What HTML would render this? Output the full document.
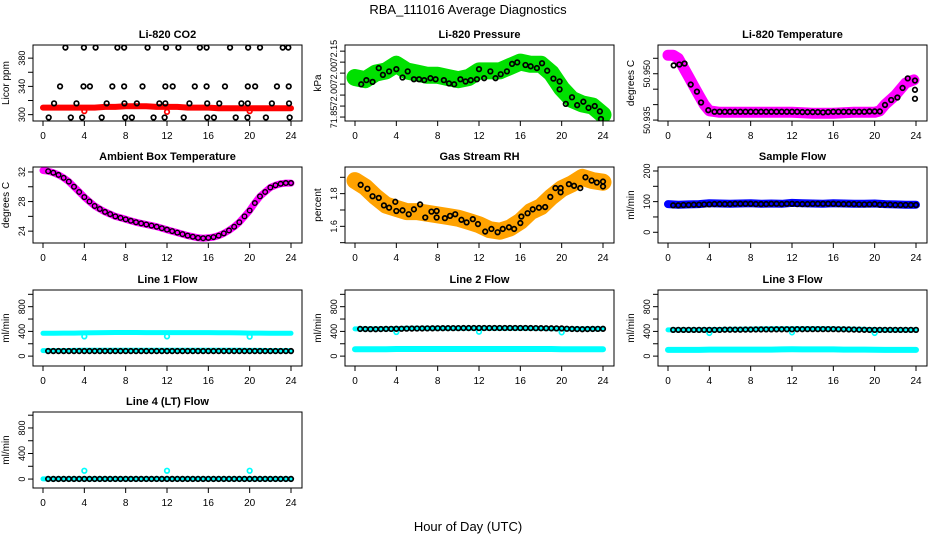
<!DOCTYPE html>
<html><head><meta charset="utf-8">
<style>
html,body{margin:0;padding:0;background:#fff;}
svg{display:block;font-family:"Liberation Sans",sans-serif;}
</style></head>
<body>
<svg id="chart" width="936" height="540" viewBox="0 0 936 540" xmlns="http://www.w3.org/2000/svg">
<rect x="0" y="0" width="936" height="540" fill="#fff"/>
<text x="468" y="14" text-anchor="middle" font-size="13">RBA_111016  Average Diagnostics</text>
<text x="468" y="531" text-anchor="middle" font-size="13">Hour of Day (UTC)</text>
</svg>
<script>
// ---- data ----
const xTicks = [0,4,8,12,16,20,24];
const hourly = [0,1,2,3,4,5,6,7,8,9,10,11,12,13,14,15,16,17,18,19,20,21,22,23,24];
const halfHours = [0.5,1,1.5,2,2.5,3,3.5,4,4.5,5,5.5,6,6.5,7,7.5,8,8.5,9,9.5,10,10.5,11,11.5,12,12.5,13,13.5,14,14.5,15,15.5,16,16.5,17,17.5,18,18.5,19,19.5,20,20.5,21,21.5,22,22.5,23,23.5,24];

// CO2
const co2Raw = [310,310,310,310,310,310,311,311,312,312,312,311,311,311,310,310,310,309,309,309,309,309,309,309,309];
const co2AvgHours = [2.17,3.96,5.09,7.2,7.85,10.12,11.9,13.1,15.18,15.83,18.1,19.85,21.0,23.2,23.74,
  1.65,3.92,4.54,6.71,7.85,9.63,11.84,12.55,14.69,15.83,17.61,19.82,20.53,22.64,23.78,
  1.07,3.24,6.16,7.88,9.08,11.26,11.84,14.17,15.89,17.06,19.2,19.82,22.15,23.81,
  0.55,2.69,3.79,5.68,7.95,8.6,10.7,11.77,13.62,15.89,16.54,18.65,19.79,21.57,23.87];
const co2AvgValues = [395,395,395,395,395,395,395,395,395,395,395,395,395,395,395,
  340,340,340,340,340,340,340,340,340,340,340,340,340,340,340,
  316,316,316,316,316,316,316,316,316,316,316,316,316,316,
  296,296,296,296,296,296,296,296,296,296,296,296,296,296,296];
const co2OutHours = [4,12,20];
const co2OutValues = [305,304,305];

// Pressure
const presRaw = [72.03,72.02,72.05,72.06,72.09,72.06,72.05,72.04,72.04,72.03,72.02,72.03,72.06,72.06,72.06,72.08,72.10,72.09,72.09,72.05,71.98,71.93,71.91,71.90,71.86];
const presAvgHours = [0.6,1.1,1.7,2.3,2.7,3.3,4.0,4.6,5.1,5.7,6.2,6.7,7.3,7.8,8.6,9.1,9.6,10.2,10.7,11.2,11.8,12.0,12.5,13.1,13.6,14.1,14.7,15.2,15.7,16.5,17.0,17.6,18.1,18.6,19.2,19.8,19.8,20.4,21.0,21.5,22.1,22.6,23.2,23.7,23.8];
const presAvgValues = [71.999,72.018,72.01,72.073,72.042,72.058,72.068,72.03,72.058,72.022,72.022,72.018,72.027,72.022,72.018,72.003,71.999,72.022,72.012,72.018,72.022,72.068,72.027,72.058,72.027,72.045,72.058,72.092,72.099,72.087,72.081,72.073,72.095,72.061,72.025,72.012,71.976,71.91,71.94,71.904,71.92,71.892,71.9,71.876,71.841];

// Li-820 temperature
const ltHours = [0,0.5,1,1.5,2,2.5,3,3.5,4,5,6,8,10,12,14,16,18,20,20.5,21,22,23,23.8];
const ltRaw = [50.956,50.956,50.955,50.952,50.949,50.946,50.943,50.940,50.938,50.9375,50.9375,50.9375,50.9375,50.9375,50.9372,50.9372,50.9375,50.9375,50.938,50.940,50.943,50.947,50.948];
const ltAvgHours = [0.55,1.1,1.6,2.2,2.8,3.2,3.9,4.5,5,5.5,6,6.5,7,7.5,8,8.5,9,9.5,10,10.5,11,11.5,12,12.5,13,13.5,14,14.5,15,15.5,16,16.5,17,17.5,18,18.5,19,19.5,20,20.5,21.0,21.6,22.2,22.7,23.2,23.9,23.9,23.9];
const ltAvgValues = [50.9527,50.953,50.9533,50.9465,50.9442,50.9407,50.9382,50.9377,50.9377,50.9377,50.9377,50.9377,50.9377,50.9377,50.9377,50.9377,50.9377,50.9377,50.9377,50.9377,50.9377,50.9377,50.9377,50.9377,50.9376,50.9376,50.9376,50.9376,50.9375,50.9376,50.9377,50.9377,50.9377,50.9377,50.9377,50.9377,50.9377,50.9378,50.9378,50.9378,50.9399,50.9415,50.9423,50.9454,50.9485,50.9478,50.9448,50.9419];

// Ambient box temperature
const ambHours = [0].concat(halfHours);
const ambValues = [32.2,32.1,31.9,31.6,31.2,30.7,30.0,29.3,28.6,28.0,27.4,27.0,26.6,26.3,26.0,25.8,25.6,25.4,25.2,25.05,24.9,24.75,24.6,24.4,24.2,24.0,23.8,23.6,23.4,23.25,23.1,23.05,23.1,23.2,23.4,23.7,24.1,24.6,25.2,26.0,26.8,27.8,28.7,29.3,29.9,30.2,30.4,30.5,30.5];

// RH
const rhRaw = [1.88,1.84,1.78,1.73,1.71,1.69,1.69,1.68,1.67,1.66,1.65,1.63,1.61,1.58,1.57,1.59,1.63,1.69,1.72,1.78,1.83,1.86,1.90,1.88,1.87];
const rhAvgHours = [0.55,1.2,1.7,2.3,2.8,3.3,3.9,4.0,4.6,5.2,5.7,6.3,6.8,7.4,7.9,7.9,8.7,9.2,9.7,10.3,10.8,11.4,11.9,12.6,13.2,13.8,14.3,14.9,15.4,16.0,16.1,16.7,17.2,17.8,18.4,18.9,19.4,19.9,19.9,20.7,21.2,21.8,22.3,22.9,23.4,24.0,24.0];
const rhAvgValues = [1.854,1.83,1.784,1.774,1.728,1.714,1.75,1.694,1.698,1.674,1.704,1.734,1.654,1.69,1.694,1.654,1.65,1.664,1.674,1.64,1.624,1.644,1.614,1.568,1.584,1.564,1.584,1.594,1.584,1.62,1.66,1.68,1.704,1.714,1.718,1.78,1.834,1.808,1.834,1.858,1.848,1.834,1.9,1.88,1.868,1.874,1.844];

// Sample flow
const sfRaw = [92,90,91,92,95,94,93,94,95,93,94,93,96,95,94,93,95,94,93,93,94,92,91,90,90];
const sfAvg = [88,88,89,89,90,90,91,91,92,92,92,92,93,93,93,93,92,92,92,93,93,92,93,93,92,92,92,93,93,93,93,93,92,92,92,92,91,91,91,92,90,90,90,89,89,89,89,89];

// Line flows
const l1Upper = [370,370,372,372,375,378,380,382,382,382,380,380,380,380,380,380,380,378,378,375,372,372,370,370,370];
const l1Lower = [90,90,90,92,95,95,95,95,95,95,95,95,95,95,95,95,95,95,95,95,92,92,90,90,90];
const l1Avg = Array(48).fill(82);
const l1OutHours = [4,12,20];
const l1OutValues = [320,320,315];
const l2Upper = [440,440,440,440,445,450,450,450,450,450,450,450,450,450,450,450,450,450,448,445,440,440,440,440,440];
const l2Lower = [110,110,110,110,115,115,115,115,115,115,115,115,115,115,115,115,115,115,115,115,110,110,110,110,110];
const l2Avg = [440,438,437,436,438,440,441,442,443,445,446,447,448,449,450,451,452,452,453,453,454,454,455,455,455,455,455,455,455,455,455,455,455,454,453,452,451,450,449,448,443,440,438,436,438,440,441,442];
const l2OutHours = [4,12,20];
const l2OutValues = [390,395,385];
const l3Upper = [425,425,425,425,428,430,432,435,438,440,442,442,442,442,442,442,440,438,435,432,428,425,425,425,425];
const l3Lower = [100,100,100,100,105,105,105,105,105,105,105,108,110,108,108,108,108,106,106,105,102,100,100,100,100];
const l3Avg = [425,425,425,425,425,425,425,425,425,425,428,428,428,428,430,430,432,432,433,433,434,434,435,435,436,436,437,437,437,437,437,437,435,434,432,430,428,426,425,425,425,425,425,425,425,425,425,425];
const l3OutHours = [4,12,20];
const l3OutValues = [375,385,375];
const l4Cyan = Array(25).fill(3);
const l4Avg = Array(48).fill(2);
const l4OutHours = [4,12,20];
const l4OutValues = [130,130,130];

// ---- layout ----
const NS = "http://www.w3.org/2000/svg";
const svg = document.getElementById('chart');
const colLeft = [33, 345, 658];
const rowTop = [45, 167, 290, 412];
const PW = 269, PH = 76;

function mk(tag, attrs, parent){
  const e = document.createElementNS(NS, tag);
  for (const k in attrs) e.setAttribute(k, attrs[k]);
  (parent||svg).appendChild(e);
  return e;
}

function panel(cfg){
  const L = colLeft[cfg.col], T = rowTop[cfg.row];
  const g = mk('g', {});
  
  
  const xs = h => L + 10 + h * (248/24);
  const ys = v => T + PH - (v - cfg.ymin) / (cfg.ymax - cfg.ymin) * PH;
  const clip = 'clip-' + cfg.name;
  const cp = mk('clipPath', {id: clip}, g);
  mk('rect', {x: L, y: T, width: PW, height: PH}, cp);
  const dg = mk('g', {'clip-path': 'url(#' + clip + ')'}, g);
  
  
  (cfg.lines||[]).forEach(s => {
    const pts = s.x.map((h,i) => xs(h).toFixed(1) + ',' + ys(s.y[i]).toFixed(1)).join(' ');
    const pl = mk('polyline', {points: pts, fill: 'none', stroke: s.color, 'stroke-width': s.w, 'stroke-linejoin': 'round', 'stroke-linecap': 'round'}, dg);
    
    
  });
  (cfg.points||[]).forEach(s => {
    s.x.forEach((h,i) => {
      const c = mk('circle', {cx: xs(h), cy: ys(s.y[i]), r: s.r||2.3, fill: 'none', stroke: s.color, 'stroke-width': s.sw||1.7}, dg);
      
      
    });
  });
  const box = mk('rect', {x: L, y: T, width: PW, height: PH, fill: 'none', stroke: '#000', 'stroke-width': 1}, g);
  
  
  const t = mk('text', {x: L + PW/2, y: T - 7, 'text-anchor': 'middle', 'font-size': 11, 'font-weight': 'bold'}, g);
  t.textContent = cfg.title;
  
  
  xTicks.forEach(h => {
    mk('line', {x1: xs(h), x2: xs(h), y1: T+PH, y2: T+PH+5, stroke: '#000'}, g);
    const tx = mk('text', {x: xs(h), y: T+PH+18, 'text-anchor': 'middle', 'font-size': 10}, g);
    tx.textContent = h;
    
    
  });
  mk('line', {x1: xs(0), x2: xs(24), y1: T+PH, y2: T+PH, stroke: '#000'}, g);
  cfg.yticks.forEach(v => {
    const y = ys(v);
    mk('line', {x1: L-5, x2: L, y1: y, y2: y, stroke: '#000'}, g);
  });
  cfg.ylabelVals.forEach((v,i) => {
    const y = ys(v);
    const tx = mk('text', {x: L-8, y: y, 'text-anchor': 'middle', 'font-size': 9, transform: 'rotate(-90 ' + (L-8) + ' ' + y + ')'}, g);
    tx.textContent = cfg.ylabelText[i];
    
    
  });
  const yt = mk('text', {x: L-24, y: T+PH/2, 'text-anchor': 'middle', 'font-size': 10, transform: 'rotate(-90 ' + (L-24) + ' ' + (T+PH/2) + ')'}, g);
  yt.textContent = cfg.ytitle;
  
  
}

const flowTicks = [0,200,400,600,800,1000];
const flowLab = [0,400,800];
const flowLabT = ['0','400','800'];

panel({name:'co2-panel', title:'Li-820 CO2', col:0, row:0, ymin:291, ymax:398.6, yticks:[300,320,340,360,380], ylabelVals:[300,340,380], ylabelText:['300','340','380'], ytitle:'Licor ppm',
  lines:[{name:'co2-raw', x:hourly, y:co2Raw, color:'#ff0000', w:6}],
  points:[{name:'co2-outlier', x:co2OutHours, y:co2OutValues, color:'#ff0000'},{name:'co2-average', x:co2AvgHours, y:co2AvgValues, color:'#000'}]});
panel({name:'pressure-panel', title:'Li-820 Pressure', col:1, row:0, ymin:71.832, ymax:72.178, yticks:[71.85,71.90,71.95,72.00,72.05,72.10,72.15], ylabelVals:[71.85,71.95,72.05,72.15], ylabelText:['71.85','72.00','72.00','72.15'], ytitle:'kPa',
  lines:[{name:'pressure-raw', x:hourly, y:presRaw, color:'#00e000', w:17}],
  points:[{name:'pressure-average', x:presAvgHours, y:presAvgValues, color:'#000'}]});
panel({name:'licor-temp-panel', title:'Li-820 Temperature', col:2, row:0, ymin:50.9347, ymax:50.9593, yticks:[50.935,50.940,50.945,50.950,50.955], ylabelVals:[50.935,50.950], ylabelText:['50.935','50.950'], ytitle:'degrees C',
  lines:[{name:'licor-temp-raw', x:ltHours, y:ltRaw, color:'#ff00ff', w:11}],
  points:[{name:'licor-temp-average', x:ltAvgHours, y:ltAvgValues, color:'#000'}]});
panel({name:'ambient-temp-panel', title:'Ambient Box Temperature', col:0, row:1, ymin:22.4, ymax:32.67, yticks:[24,26,28,30,32], ylabelVals:[24,28,32], ylabelText:['24','28','32'], ytitle:'degrees C',
  lines:[{name:'ambient-temp-raw', x:ambHours, y:ambValues, color:'#ff00ff', w:7}],
  points:[{name:'ambient-temp-average', x:ambHours.slice(1), y:ambValues.slice(1), color:'#000', sw:1.4}]});
panel({name:'rh-panel', title:'Gas Stream RH', col:1, row:1, ymin:1.498, ymax:1.963, yticks:[1.5,1.6,1.7,1.8,1.9], ylabelVals:[1.6,1.8], ylabelText:['1.6','1.8'], ytitle:'percent',
  lines:[{name:'rh-raw', x:hourly, y:rhRaw, color:'#ffa200', w:17}],
  points:[{name:'rh-average', x:rhAvgHours, y:rhAvgValues, color:'#000'}]});
panel({name:'sample-flow-panel', title:'Sample Flow', col:2, row:1, ymin:-35, ymax:213, yticks:[0,50,100,150,200], ylabelVals:[0,100,200], ylabelText:['0','100','200'], ytitle:'ml/min',
  lines:[{name:'sample-flow-raw', x:hourly, y:sfRaw, color:'#0000ff', w:8}],
  points:[{name:'sample-flow-average', x:halfHours, y:sfAvg, color:'#000'}]});
panel({name:'line1-flow-panel', title:'Line 1 Flow', col:0, row:2, ymin:-160, ymax:1070, yticks:flowTicks, ylabelVals:flowLab, ylabelText:flowLabT, ytitle:'ml/min',
  lines:[{name:'line1-upper-raw', x:hourly, y:l1Upper, color:'#00ffff', w:5},{name:'line1-lower-raw', x:hourly, y:l1Lower, color:'#00ffff', w:5}],
  points:[{name:'line1-outlier', x:l1OutHours, y:l1OutValues, color:'#00ffff'},{name:'line1-average', x:halfHours, y:l1Avg, color:'#000'}]});
panel({name:'line2-flow-panel', title:'Line 2 Flow', col:1, row:2, ymin:-160, ymax:1070, yticks:flowTicks, ylabelVals:flowLab, ylabelText:flowLabT, ytitle:'ml/min',
  lines:[{name:'line2-upper-raw', x:hourly, y:l2Upper, color:'#00ffff', w:5},{name:'line2-lower-raw', x:hourly, y:l2Lower, color:'#00ffff', w:6}],
  points:[{name:'line2-outlier', x:l2OutHours, y:l2OutValues, color:'#00ffff'},{name:'line2-average', x:halfHours, y:l2Avg, color:'#000'}]});
panel({name:'line3-flow-panel', title:'Line 3 Flow', col:2, row:2, ymin:-160, ymax:1070, yticks:flowTicks, ylabelVals:flowLab, ylabelText:flowLabT, ytitle:'ml/min',
  lines:[{name:'line3-upper-raw', x:hourly, y:l3Upper, color:'#00ffff', w:5},{name:'line3-lower-raw', x:hourly, y:l3Lower, color:'#00ffff', w:6}],
  points:[{name:'line3-outlier', x:l3OutHours, y:l3OutValues, color:'#00ffff'},{name:'line3-average', x:halfHours, y:l3Avg, color:'#000'}]});
panel({name:'line4-flow-panel', title:'Line 4 (LT) Flow', col:0, row:3, ymin:-140, ymax:1050, yticks:flowTicks, ylabelVals:flowLab, ylabelText:flowLabT, ytitle:'ml/min',
  lines:[{name:'line4-raw', x:hourly, y:l4Cyan, color:'#00ffff', w:5}],
  points:[{name:'line4-outlier', x:l4OutHours, y:l4OutValues, color:'#00ffff'},{name:'line4-average', x:halfHours, y:l4Avg, color:'#000'}]});
</script>
</body></html>
